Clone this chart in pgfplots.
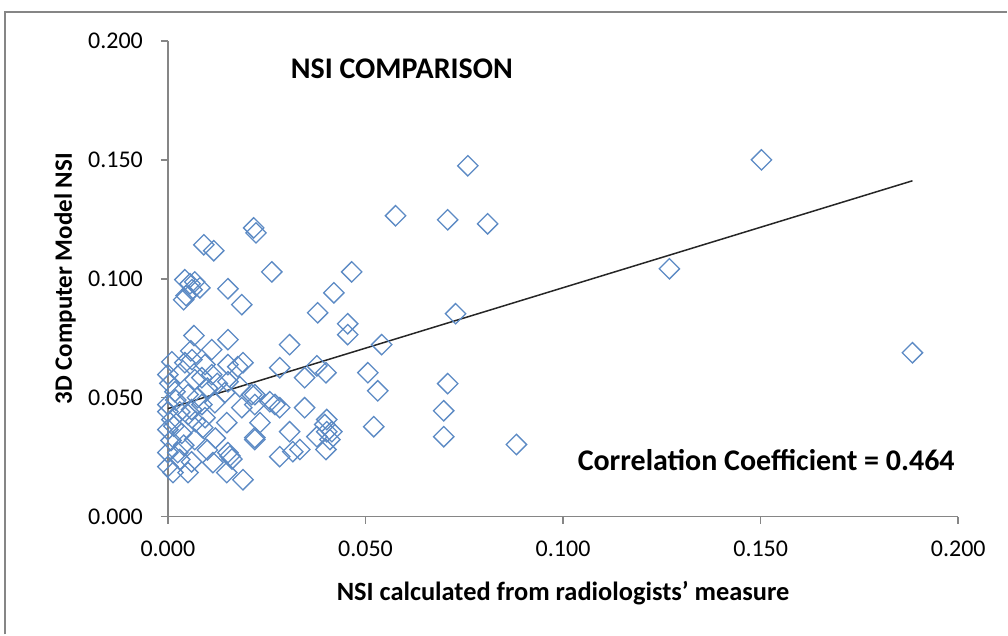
\documentclass[border=0pt]{standalone}
\usepackage{pgfplots}
\pgfplotsset{compat=1.18}
\usepackage{fontspec}
\setmainfont{Carlito}
\definecolor{xlblue}{RGB}{92,138,196}
\definecolor{xlgray}{RGB}{134,134,134}
\begin{document}
\begin{tikzpicture}
\begin{axis}[
    scale only axis,
    width=395.5pt, height=238pt,
    xmin=0, xmax=0.2, ymin=0, ymax=0.2,
    xtick={0,0.05,0.1,0.15,0.2},
    ytick={0,0.05,0.1,0.15,0.2},
    axis lines=left,
    axis line style={xlgray, line width=0.8pt, -},
    tick style={xlgray, line width=0.8pt},
    tick align=outside,
    major tick length=3.5pt,
    /pgf/number format/.cd, fixed, fixed zerofill, precision=3, assume math mode=true,
    /pgfplots/.cd,
    ticklabel style={font=\fontsize{12}{14}\selectfont},
    xticklabel style={yshift=-5pt},
    yticklabel style={xshift=-5.5pt},
    xlabel={\bfseries NSI calculated from radiologists' measure},
    xlabel style={font=\fontsize{13.2}{15}\selectfont, at={(rel axis cs:0.5,-0.160)}, anchor=center},
    ylabel={\bfseries 3D Computer Model NSI},
    ylabel style={font=\fontsize{12.5}{14}\selectfont, at={(rel axis cs:-0.130,0.5)}, anchor=center},
    clip=false,
]
\addplot[only marks, mark=square, mark size=3.6pt, xlblue,
    mark options={rotate=45, line width=0.65pt, fill=none}] coordinates {
(0.1502,0.1500) (0.1884,0.0689) (0.1269,0.1042) (0.0759,0.1475)
(0.0576,0.1265) (0.0708,0.1248) (0.0809,0.1231) (0.0728,0.0853)
(0.0882,0.0303) (0.0708,0.0559) (0.0698,0.0445) (0.0698,0.0336)
(0.0465,0.1029) (0.0420,0.0941) (0.0379,0.0857) (0.0455,0.0811)
(0.0455,0.0765) (0.0541,0.0723) (0.0506,0.0605) (0.0531,0.0529)
(0.0521,0.0378) (0.0377,0.0634) (0.0400,0.0605) (0.0346,0.0584)
(0.0346,0.0458) (0.0397,0.0387) (0.0415,0.0357) (0.0377,0.0336)
(0.0400,0.0282) (0.0334,0.0282) (0.0308,0.0723) (0.0283,0.0626)
(0.0220,0.0513) (0.0258,0.0483) (0.0271,0.0471) (0.0283,0.0458)
(0.0402,0.0408) (0.0233,0.0395) (0.0308,0.0357) (0.0220,0.0324)
(0.0402,0.0357) (0.0410,0.0324) (0.0316,0.0273) (0.0283,0.0252)
(0.0217,0.1214) (0.0223,0.1193) (0.0091,0.1143) (0.0116,0.1118)
(0.0263,0.1029) (0.0043,0.0996) (0.0056,0.0979) (0.0068,0.0987)
(0.0061,0.0954) (0.0046,0.0929) (0.0081,0.0962) (0.0040,0.0912)
(0.0152,0.0958) (0.0187,0.0891) (0.0066,0.0761) (0.0058,0.0697)
(0.0152,0.0744) (0.0111,0.0702)
(0.0010,0.0651) (0.0043,0.0647) (0.0061,0.0660) (0.0094,0.0639)
(0.0152,0.0639) (0.0177,0.0630) (0.0190,0.0647) (0.0000,0.0597)
(0.0068,0.0576) (0.0086,0.0584) (0.0111,0.0597) (0.0152,0.0567)
(0.0182,0.0546) (0.0018,0.0525) (0.0051,0.0513) (0.0144,0.0521)
(0.0212,0.0513) (0.0086,0.0471) (0.0119,0.0479) (0.0187,0.0458)
(0.0220,0.0471) (0.0000,0.0471) (0.0000,0.0441) (0.0010,0.0408)
(0.0051,0.0429) (0.0094,0.0416) (0.0000,0.0366) (0.0088,0.0374)
(0.0149,0.0395) (0.0220,0.0332) (0.0068,0.0324) (0.0152,0.0269)
(0.0157,0.0255) (0.0162,0.0242) (0.0000,0.0269) (0.0025,0.0269)
(0.0114,0.0227) (0.0051,0.0185) (0.0013,0.0185) (0.0149,0.0185)
(0.0190,0.0155) (0.0000,0.0210)
(0.0005,0.0560) (0.0020,0.0490) (0.0030,0.0440) (0.0015,0.0380)
(0.0035,0.0350) (0.0008,0.0320) (0.0040,0.0300) (0.0060,0.0450)
(0.0075,0.0500) (0.0100,0.0540) (0.0030,0.0600) (0.0125,0.0560)
(0.0070,0.0400) (0.0120,0.0330) (0.0100,0.0280) (0.0060,0.0230)
(0.0030,0.0240)
};
\addplot[black!85, line width=0.75pt] coordinates {(0,0.0454) (0.1884,0.1412)};
\node[font=\bfseries\fontsize{15}{17}\selectfont] at (rel axis cs:0.296,0.941) {NSI COMPARISON};
\node[font=\bfseries\fontsize{15}{17}\selectfont] at (rel axis cs:0.757,0.118) {Correlation Coefficient = 0.464};
\coordinate (ll) at (rel axis cs:-0.2124,-0.2479);
\coordinate (ur) at (rel axis cs:1.0619,1.0861);
\coordinate (fl) at (rel axis cs:-0.2061,1.0609);
\end{axis}
\path (ll) rectangle (ur);
\draw[xlgray, line width=0.8pt] (fl |- ll) -- (fl) -- (fl -| ur);
\end{tikzpicture}
\end{document}
